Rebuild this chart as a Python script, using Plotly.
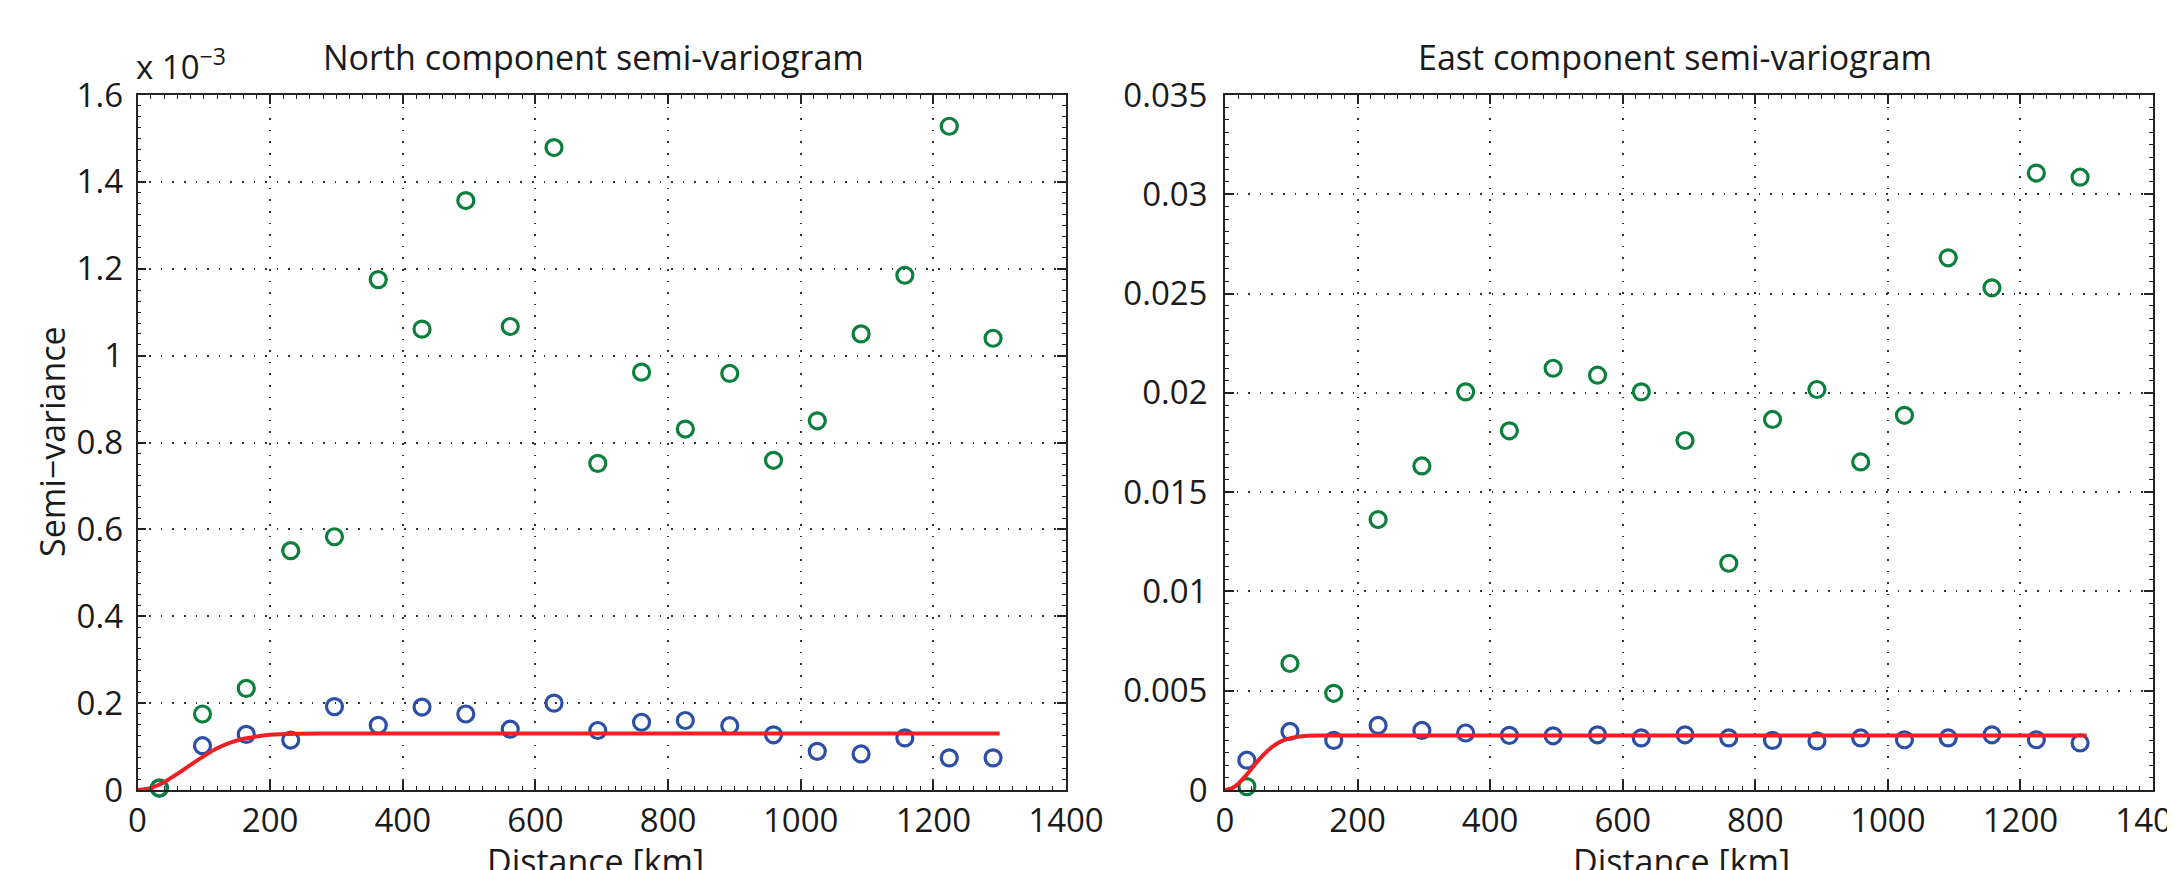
import plotly.graph_objects as go

# ---------------- data ----------------
lag_km = [33, 98, 164, 231, 297, 363, 429, 495, 562, 628,
          694, 760, 826, 893, 959, 1025, 1091, 1157, 1224, 1290]

# North component, values in units of 1e-3
north_blue_e3 = [0.004, 0.102, 0.128, 0.115, 0.192, 0.149, 0.191, 0.175, 0.140, 0.200,
                 0.137, 0.156, 0.160, 0.148, 0.127, 0.089, 0.083, 0.120, 0.074, 0.074]
north_green_e3 = [0.005, 0.175, 0.234, 0.551, 0.583, 1.175, 1.061, 1.357, 1.067, 1.479,
                  0.752, 0.962, 0.831, 0.959, 0.759, 0.850, 1.050, 1.185, 1.528, 1.040]
north_model_h = [0, 20, 40, 60, 80, 100, 120, 140, 160, 180, 200, 240, 280, 1300]
north_model_e3 = [0, 0.005, 0.018, 0.037, 0.058, 0.078, 0.096, 0.109, 0.118, 0.123,
                  0.127, 0.1295, 0.130, 0.130]

# East component
east_blue = [0.0015, 0.00295, 0.0025, 0.00325, 0.0030, 0.00287, 0.00275, 0.00273, 0.00278, 0.00262,
             0.00278, 0.00262, 0.0025, 0.00247, 0.00262, 0.00253, 0.00262, 0.00278, 0.00253, 0.00237]
east_green = [0.00017, 0.00637, 0.00487, 0.01362, 0.01632, 0.02005, 0.01809, 0.02124, 0.02089, 0.02005,
              0.0176, 0.01142, 0.01866, 0.02017, 0.01652, 0.01887, 0.0268, 0.02529, 0.03107, 0.03086]
east_model_h = [0, 10, 20, 30, 40, 50, 60, 70, 80, 90, 100, 120, 140, 1300]
east_model = [0, 0.00008, 0.00032, 0.00067, 0.00107, 0.00148, 0.00184, 0.00214, 0.00237,
              0.00252, 0.00262, 0.00272, 0.00274, 0.00275]

titles = ["North component semi-variogram", "East component semi-variogram"]
x_title = "Distance [km]"
y_title = "Semi\u2212variance"
exp_label = "x 10<sup>\u22123</sup>"

# ---------------- styling ----------------
FONT = "Open Sans"
BLUE = "#2d4ea6"
GREEN = "#0b7f3c"
RED = "#ee2024"
PAGE_OFF = 8            # default body margin of the html page
W, H = 2175 - PAGE_OFF, 870 - PAGE_OFF

fig = go.Figure()

def add_panel(xa, ya, blue, green, mh, mv):
    marker_kw = dict(symbol="circle-open", size=16)
    fig.add_trace(go.Scatter(x=lag_km, y=blue, mode="markers", xaxis=xa, yaxis=ya,
                             marker=dict(color=BLUE, line=dict(width=3.2, color=BLUE), **marker_kw),
                             showlegend=False, cliponaxis=False))
    fig.add_trace(go.Scatter(x=lag_km, y=green, mode="markers", xaxis=xa, yaxis=ya,
                             marker=dict(color=GREEN, line=dict(width=3.2, color=GREEN), **marker_kw),
                             showlegend=False, cliponaxis=False))
    fig.add_trace(go.Scatter(x=mh, y=mv, mode="lines", xaxis=xa, yaxis=ya,
                             line=dict(color=RED, width=4, shape="spline", smoothing=0.6),
                             showlegend=False))

add_panel("x", "y", north_blue_e3, north_green_e3, north_model_h, north_model_e3)
add_panel("x2", "y2", east_blue, east_green, east_model_h, east_model)

def px_x(p):
    return (p - PAGE_OFF) / W

def px_y(p):
    return 1 - (p - PAGE_OFF) / H

dom_y = [px_y(790), px_y(95)]
dom_x1 = [px_x(137.5), px_x(1066)]
dom_x2 = [px_x(1225), px_x(2153)]

tickfont = dict(family=FONT, size=33, color="#1a1a1a")
common_axis = dict(
    showline=True, linecolor="#222222", linewidth=1.8, mirror="allticks",
    ticks="inside", ticklen=9, tickwidth=1.5, tickcolor="#222222",
    showgrid=True, gridcolor="#333333", gridwidth=1.6, griddash="1.6px,10px",
    zeroline=False, tickfont=tickfont, automargin=False, ticklabeloverflow="allow",
)

xaxis_common = dict(common_axis, range=[0, 1400], dtick=200, tick0=0,
                    minor=dict(dtick=20, tick0=0, ticks="inside", ticklen=4, tickcolor="#222222",
                               tickwidth=1.2, showgrid=False),
                    ticklabelstandoff=0)

fig.update_layout(
    width=W, height=H,
    margin=dict(l=0, r=0, t=0, b=0, autoexpand=False),
    paper_bgcolor="white", plot_bgcolor="white",
    xaxis=dict(xaxis_common, domain=dom_x1, anchor="y"),
    yaxis=dict(common_axis, domain=dom_y, anchor="x", range=[0, 1.6], dtick=0.2, tick0=0,
               tickformat="~g", ticklabelstandoff=6,
               minor=dict(dtick=0.025, tick0=0, ticks="inside", ticklen=4, tickcolor="#222222",
                          tickwidth=1.2, showgrid=False)),
    xaxis2=dict(xaxis_common, domain=dom_x2, anchor="y2"),
    yaxis2=dict(common_axis, domain=dom_y, anchor="x2", range=[0, 0.035], dtick=0.005, tick0=0,
                tickformat="~g", ticklabelstandoff=9,
                minor=dict(dtick=0.000625, tick0=0, ticks="inside", ticklen=4, tickcolor="#222222",
                           tickwidth=1.2, showgrid=False)),
)

annot_font = dict(family=FONT, size=34, color="#1a1a1a")
anns = [
    dict(text=titles[0], x=px_x(593), y=px_y(57), xref="paper", yref="paper",
         xanchor="center", yanchor="middle", showarrow=False, font=annot_font),
    dict(text=titles[1], x=px_x(1675), y=px_y(57), xref="paper", yref="paper",
         xanchor="center", yanchor="middle", showarrow=False, font=annot_font),
    dict(text=x_title, x=px_x(595), y=px_y(836), xref="paper", yref="paper",
         xanchor="center", yanchor="top", showarrow=False, font=annot_font),
    dict(text=x_title, x=px_x(1681), y=px_y(836), xref="paper", yref="paper",
         xanchor="center", yanchor="top", showarrow=False, font=annot_font),
    dict(text=y_title, x=px_x(52), y=px_y(442), xref="paper", yref="paper",
         xanchor="center", yanchor="middle", textangle=-90, showarrow=False, font=annot_font),
    dict(text=exp_label, x=px_x(134), y=px_y(91), xref="paper", yref="paper",
         xanchor="left", yanchor="bottom", showarrow=False, font=dict(family=FONT, size=33, color="#1a1a1a")),
]
fig.update_layout(annotations=anns)

fig.write_html("out.html")
